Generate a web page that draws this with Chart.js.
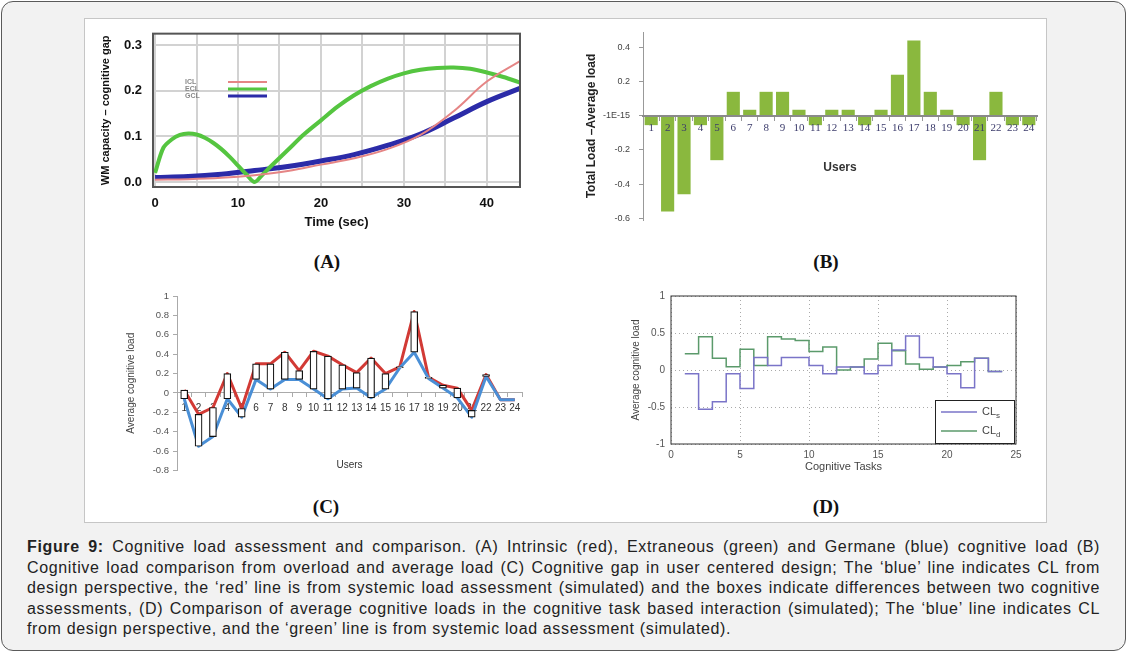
<!DOCTYPE html>
<html>
<head>
<meta charset="utf-8">
<title>Figure 9 - Cognitive load assessment</title>
<script src="https://cdn.jsdelivr.net/npm/chart.js"></script>
<style>
body { margin:0; width:1128px; height:653px; background:#fff; position:relative; overflow:hidden;
       font-family:"Liberation Sans", Arial, sans-serif; }
#outer { position:absolute; left:1px; top:1px; width:1123px; height:648px; border:1.5px solid #5a5a5a;
         border-radius:12px; background:#f2f2f2; }
#panel { position:absolute; left:84px; top:18px; width:961px; height:503px; background:#fff; border:1px solid #c6c6c6; }
canvas { position:absolute; }
.tag { position:absolute; font-family:"Liberation Serif", "DejaVu Serif", serif; font-weight:bold; font-size:19px;
       color:#111; transform:translate(-50%, -50%); }
#caption { position:absolute; left:27px; top:537px; width:1073px; font-size:16px; letter-spacing:0.65px;
           line-height:20.5px; color:#222; }
#caption .j { text-align:justify; text-align-last:justify; }
</style>
</head>
<body>
<div id="outer"></div>
<div id="panel"></div>

<canvas id="chartA" width="450" height="215" style="left:90px;top:22px"></canvas>
<canvas id="chartB" width="475" height="210" style="left:570px;top:22px"></canvas>
<canvas id="chartC" width="410" height="190" style="left:120px;top:285px"></canvas>
<canvas id="chartD" width="410" height="195" style="left:620px;top:285px"></canvas>

<div class="tag" style="left:327px;top:262px">(A)</div>
<div class="tag" style="left:826px;top:262px">(B)</div>
<div class="tag" style="left:326px;top:507px">(C)</div>
<div class="tag" style="left:826px;top:507px">(D)</div>

<div id="caption">
  <div class="j"><b>Figure 9:</b> Cognitive load assessment and comparison. (A) Intrinsic (red), Extraneous (green) and Germane (blue) cognitive load (B)</div>
  <div class="j">Cognitive load comparison from overload and average load (C) Cognitive gap in user centered design; The ‘blue’ line indicates CL from</div>
  <div class="j">design perspective, the ‘red’ line is from systemic load assessment (simulated) and the boxes indicate differences between two cognitive</div>
  <div class="j">assessments, (D) Comparison of average cognitive loads in the cognitive task based interaction (simulated); The ‘blue’ line indicates CL</div>
  <div>from design perspective, and the ‘green’ line is from systemic load assessment (simulated).</div>
</div>

<script>
// (A) WM capacity - cognitive gap over time
const timeA = [0, 4, 8, 12, 16, 20, 24, 28, 32, 36, 40, 44];
const iclA = [0.005, 0.006, 0.009, 0.015, 0.024, 0.038, 0.052, 0.072, 0.103, 0.155, 0.22, 0.265];
const gclA = [0.01, 0.012, 0.017, 0.025, 0.034, 0.046, 0.06, 0.08, 0.105, 0.14, 0.176, 0.205];
const timeEcl = [0, 1, 2, 3, 4, 5, 6, 7, 8, 9, 10, 11, 12, 13, 14, 16, 18, 20, 22, 24, 26, 28, 30, 32, 34, 36, 38, 40, 42, 44];
const eclA = [0.02, 0.075, 0.093, 0.103, 0.106, 0.104, 0.097, 0.086, 0.072, 0.055, 0.036, 0.017, 0, 0.017, 0.035,
              0.07, 0.105, 0.135, 0.165, 0.19, 0.21, 0.226, 0.238, 0.246, 0.25, 0.251, 0.248, 0.24, 0.23, 0.218];
const xGridA = [0, 5, 10, 15, 20, 25, 30, 35, 40];
const xLabelsA = ['0', '', '10', '', '20', '', '30', '', '40'];
const yTicksA = [0, 0.1, 0.2, 0.3];
const yLabelsA = ['0.0', '0.1', '0.2', '0.3'];

// (B) total load - average load per user
const users = ['1','2','3','4','5','6','7','8','9','10','11','12','13','14','15','16','17','18','19','20','21','22','23','24'];
const gapB = [-0.055, -0.56, -0.46, -0.055, -0.26, 0.14, 0.035, 0.14, 0.14, 0.035, -0.055, 0.035,
              0.035, -0.055, 0.035, 0.24, 0.44, 0.14, 0.035, -0.055, -0.26, 0.14, -0.055, -0.055];
const yTicksB = [-0.6, -0.4, -0.2, 0, 0.2, 0.4];
const yLabelsB = ['-0.6', '-0.4', '-0.2', '-1E-15', '0.2', '0.4'];

// (C) systemic (red) vs design (blue) load per user
const redC = [0.03, -0.22, -0.15, 0.2, -0.16, 0.3, 0.3, 0.42, 0.23, 0.43, 0.38, 0.29,
              0.21, 0.36, 0.2, 0.27, 0.84, 0.16, 0.08, 0.05, -0.18, 0.19, -0.07, -0.07];
const blueC = [-0.06, -0.55, -0.45, -0.06, -0.25, 0.14, 0.04, 0.14, 0.14, 0.04, -0.06, 0.04,
               0.05, -0.05, 0.04, 0.26, 0.42, 0.15, 0.05, -0.05, -0.25, 0.17, -0.07, -0.07];
const yTicksC = [-0.8, -0.6, -0.4, -0.2, 0, 0.2, 0.4, 0.6, 0.8, 1];
const yLabelsC = ['-0.8', '-0.6', '-0.4', '-0.2', '0', '0.2', '0.4', '0.6', '0.8', '1'];

// (D) average cognitive load per cognitive task (stairs)
const tasks = [1,2,3,4,5,6,7,8,9,10,11,12,13,14,15,16,17,18,19,20,21,22,23,24];
const clBlueD = [-0.05, -0.53, -0.43, -0.05, -0.25, 0.17, 0.06, 0.17, 0.17, 0.06, -0.05, 0.04,
                 0.04, -0.05, 0.06, 0.27, 0.46, 0.17, 0.04, -0.05, -0.24, 0.16, -0.02, -0.02];
const clGreenD = [0.22, 0.45, 0.16, 0.045, 0.28, 0.06, 0.45, 0.42, 0.4, 0.25, 0.31, 0.0,
                  0.04, 0.15, 0.36, 0.26, 0.08, 0.01, 0.04, 0.06, 0.11, 0.16, -0.02, -0.02];
const xTicksD = [0, 5, 10, 15, 20, 25];
const yTicksD = [-1, -0.5, 0, 0.5, 1];
const yLabelsD = ['-1', '-0.5', '0', '0.5', '1'];

function pairs(xs, ys) {
    return xs.map((x, i) => ({ x: x, y: ys[i] }));
}
function setTicks(values) {
    return scale => { scale.ticks = values.map(v => ({ value: v })); };
}

// box round the plot area
const frame = {
    id: 'frame',
    afterDraw(chart, args, opts) {
        if (!opts.color) return;
        const a = chart.chartArea, ctx = chart.ctx;
        ctx.save();
        ctx.strokeStyle = opts.color;
        ctx.lineWidth = opts.width;
        ctx.strokeRect(a.left, a.top, a.right - a.left, a.bottom - a.top);
        ctx.restore();
    }
};

document.addEventListener('DOMContentLoaded', function(){
    Chart.defaults.font.family = '"Liberation Sans", Arial, sans-serif';
    Chart.defaults.animation = false;
    Chart.defaults.responsive = false;
    Chart.defaults.plugins.legend.display = false;
    Chart.defaults.plugins.tooltip.enabled = false;

    // ---------- A ----------
    const legendA = {
        id: 'legendA',
        afterDatasetsDraw(chart) {
            const ctx = chart.ctx;
            ctx.save();
            ctx.font = 'bold 7px "Liberation Sans"';
            ctx.textBaseline = 'middle';
            chart.data.datasets.forEach((ds, i) => {
                const y = 60 + i * 7;
                ctx.fillStyle = '#888';
                ctx.fillText(ds.label, 95, y);
                ctx.strokeStyle = ds.borderColor;
                ctx.lineWidth = Math.min(ds.borderWidth, 3);
                ctx.beginPath(); ctx.moveTo(138, y); ctx.lineTo(177, y); ctx.stroke();
            });
            ctx.restore();
        }
    };
    new Chart(document.getElementById('chartA'), {
        type: 'line',
        data: {
            datasets: [
                { label: 'ICL', data: pairs(timeA, iclA), borderColor: '#e58585', borderWidth: 2, pointRadius: 0, tension: 0.4 },
                { label: 'ECL', data: pairs(timeEcl, eclA), borderColor: '#55c540', borderWidth: 4, pointRadius: 0, tension: 0.3 },
                { label: 'GCL', data: pairs(timeA, gclA), borderColor: '#2b2ba8', borderWidth: 5, pointRadius: 0, tension: 0.4 }
            ]
        },
        options: {
            layout: { padding: { top: 10, right: 20 } },
            plugins: { frame: { color: '#555', width: 2 } },
            scales: {
                x: {
                    type: 'linear', min: -0.25, max: 44,
                    afterBuildTicks: setTicks(xGridA),
                    afterFit: s => { s.height = 50; },
                    grid: { color: '#d2d2d2', lineWidth: 2, drawTicks: false },
                    border: { display: false },
                    ticks: { padding: 9, color: '#111', font: { size: 13, weight: 'bold' }, autoSkip: false, maxRotation: 0,
                             callback: (v, i) => xLabelsA[i] },
                    title: { display: true, text: 'Time (sec)', color: '#111', font: { size: 13, weight: 'bold' }, padding: { top: 0, bottom: 7 } }
                },
                y: {
                    min: -0.011, max: 0.325,
                    afterBuildTicks: setTicks(yTicksA),
                    afterFit: s => { s.width = 63; },
                    grid: { color: '#d2d2d2', lineWidth: 2, drawTicks: false },
                    border: { display: false },
                    ticks: { padding: 11, color: '#111', font: { size: 13, weight: 'bold', lineHeight: 0.1 }, callback: (v, i) => yLabelsA[i] },
                    title: { display: true, text: 'WM capacity – cognitive gap', color: '#111', font: { size: 11, weight: 'bold' }, padding: { top: 9, bottom: 0 } }
                }
            }
        },
        plugins: [frame, legendA]
    });

    // ---------- B ----------
    new Chart(document.getElementById('chartB'), {
        type: 'bar',
        data: {
            labels: users,
            datasets: [{ data: gapB, backgroundColor: '#8ab83e', barPercentage: 0.8, categoryPercentage: 1 }]
        },
        options: {
            layout: { padding: { top: 10, right: 8, bottom: 12 } },
            scales: {
                x: {
                    position: { y: 0 },
                    grid: { drawOnChartArea: false, tickLength: 4, color: '#999' },
                    border: { color: '#8a8a8a', width: 2, z: 1 },
                    ticks: { z: 1, padding: 2, color: '#3b3b6b', font: { family: '"Liberation Serif"', size: 11 }, autoSkip: false, maxRotation: 0 },
                    title: { display: true, text: 'Users', color: '#333', font: { size: 12, weight: 'bold' }, padding: { top: 24, bottom: 0 } }
                },
                y: {
                    min: -0.61, max: 0.49,
                    afterBuildTicks: setTicks(yTicksB),
                    afterFit: s => { s.width = 73; },
                    grid: { drawOnChartArea: false, tickLength: 4, color: '#999' },
                    border: { color: '#999' },
                    ticks: { padding: 9, color: '#444', font: { size: 9, lineHeight: 0.1 }, callback: (v, i) => yLabelsB[i] },
                    title: { display: true, text: 'Total Load –Average load', color: '#222', font: { size: 12, weight: 'bold' }, padding: { top: 14, bottom: 0 } }
                }
            }
        }
    });

    // ---------- C ----------
    new Chart(document.getElementById('chartC'), {
        type: 'bar',
        data: {
            labels: users,
            datasets: [
                { type: 'bar', data: blueC.map((b, i) => [b, redC[i]]), backgroundColor: '#ffffff', borderColor: '#111',
                  borderWidth: 1.2, borderSkipped: false, barThickness: 7, order: 0 },
                { type: 'line', data: redC, borderColor: '#d23a35', borderWidth: 3, borderJoinStyle: 'round', pointRadius: 0, order: 2 },
                { type: 'line', data: blueC, borderColor: '#4a8fd6', borderWidth: 3, borderJoinStyle: 'round', pointRadius: 0, order: 1 }
            ]
        },
        options: {
            layout: { padding: { top: 11, right: 8, bottom: 2 } },
            scales: {
                x: {
                    position: { y: 0 },
                    offset: true,
                    grid: { drawOnChartArea: false, tickLength: 4, color: '#aaa', offset: true },
                    border: { color: '#aaa', width: 1 },
                    ticks: { padding: 5, color: '#333', font: { size: 10 }, autoSkip: false, maxRotation: 0 },
                    title: { display: true, text: 'Users', color: '#333', font: { size: 10 }, padding: { top: 40, bottom: 0 } }
                },
                y: {
                    min: -0.8, max: 1,
                    afterBuildTicks: setTicks(yTicksC),
                    afterFit: s => { s.width = 57; },
                    grid: { drawOnChartArea: false, tickLength: 4, color: '#aaa' },
                    border: { color: '#aaa' },
                    ticks: { padding: 4, color: '#555', font: { size: 9.5, lineHeight: 0.1 }, callback: (v, i) => yLabelsC[i] },
                    title: { display: true, text: 'Average cognitive load', color: '#444', font: { size: 10 }, padding: { top: 5, bottom: 0 } }
                }
            }
        }
    });

    // ---------- D ----------
    const legendD = {
        id: 'legendD',
        afterDraw(chart) {
            const ctx = chart.ctx;
            ctx.save();
            ctx.fillStyle = '#fff';
            ctx.fillRect(315, 115, 79, 43);
            ctx.strokeStyle = '#222';
            ctx.lineWidth = 1;
            ctx.strokeRect(315.5, 115.5, 79, 43);
            const subs = ['s', 'd'];
            chart.data.datasets.forEach((ds, i) => {
                const y = 127 + i * 19;
                ctx.strokeStyle = ds.borderColor;
                ctx.lineWidth = 1.5;
                ctx.beginPath(); ctx.moveTo(321, y); ctx.lineTo(357, y); ctx.stroke();
                ctx.fillStyle = '#444';
                ctx.textBaseline = 'middle';
                ctx.font = '11px "Liberation Sans"';
                ctx.fillText('CL', 362, y);
                ctx.font = '8px "Liberation Sans"';
                ctx.fillText(subs[i], 376, y + 4);
            });
            ctx.restore();
        }
    };
    new Chart(document.getElementById('chartD'), {
        type: 'line',
        data: {
            datasets: [
                { data: pairs(tasks, clBlueD), borderColor: '#7a74c8', borderWidth: 1.5, pointRadius: 0, stepped: true, order: 1 },
                { data: pairs(tasks, clGreenD), borderColor: '#5b9a6b', borderWidth: 1.5, pointRadius: 0, stepped: true, order: 2 }
            ]
        },
        options: {
            layout: { padding: { top: 11, right: 14 } },
            plugins: { frame: { color: '#333', width: 1 } },
            scales: {
                x: {
                    type: 'linear', min: 0, max: 25,
                    afterBuildTicks: setTicks(xTicksD),
                    afterFit: s => { s.height = 36; },
                    grid: { color: '#aaa', drawTicks: false },
                    border: { display: false, dash: [1, 3] },
                    ticks: { padding: 5, color: '#555', font: { size: 10 } },
                    title: { display: true, text: 'Cognitive Tasks', color: '#444', font: { size: 11 }, padding: { top: 0, bottom: 6 } }
                },
                y: {
                    min: -1, max: 1,
                    afterBuildTicks: setTicks(yTicksD),
                    afterFit: s => { s.width = 51; },
                    grid: { color: '#aaa', drawTicks: false },
                    border: { display: false, dash: [1, 3] },
                    ticks: { padding: 6, color: '#555', font: { size: 10, lineHeight: 0.1 }, callback: (v, i) => yLabelsD[i] },
                    title: { display: true, text: 'Average cognitive load', color: '#444', font: { size: 10 }, padding: { top: 10, bottom: 0 } }
                }
            }
        },
        plugins: [frame, legendD]
    });
});
</script>
</body>
</html>
